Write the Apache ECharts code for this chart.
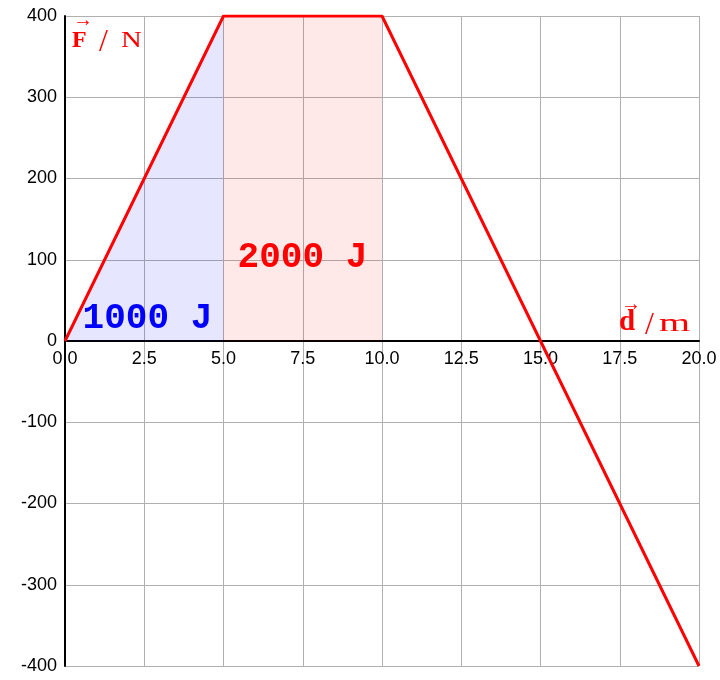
<!DOCTYPE html>
<html><head><meta charset="utf-8">
<script src="https://cdn.jsdelivr.net/npm/echarts@6/dist/echarts.min.js"></script>
<style>html,body{margin:0;padding:0;background:#fff}#c{width:720px;height:680px}</style>
</head><body><div id="c"></div>
<script>
const forceLine = [[0,0],[5,400],[10,400],[20,-400]];
const blueArea = [[0,0],[5,400]];
const pinkArea = [[5,400],[10,400]];
const xTicks = {min:0, max:20, interval:2.5};
const yTicks = {min:-400, max:400, interval:100};
const workLabels = ['1000 J', '2000 J'];
const workPos = [[2.6, 27.7], [7.49, 102.8]];
const workColors = ['#0000ff', '#ff0000'];

const chart = echarts.init(document.getElementById('c'));
const serif = '"Liberation Serif", "DejaVu Serif", serif';
const gridTop = 16, gridBottom = 14, H = 680;
const plotH = H - gridTop - gridBottom;
const zeroOffset = -plotH * (0 - yTicks.min) / (yTicks.max - yTicks.min);
function t(text, left, top, size, bold, scaleX){
  return {type:'text', left:left, top:top, scaleX:scaleX||1, z:10,
    style:{text:text, fontSize:size, fontFamily:serif, fontWeight:bold?'bold':'normal', fill:'#ff0000'}};
}
chart.setOption({
  animation:false,
  grid:{left:65, right:21, top:gridTop, bottom:gridBottom, containLabel:false, outerBoundsMode:'none'},
  xAxis:{type:'value', min:xTicks.min, max:xTicks.max, interval:xTicks.interval,
    position:'bottom', offset:zeroOffset,
    axisLine:{onZero:false, lineStyle:{color:'#000', width:2}},
    axisTick:{show:false},
    axisLabel:{formatter:v=>v.toFixed(1), color:'#000', fontSize:18, fontFamily:'"Liberation Sans", Arial, sans-serif', margin:9},
    splitLine:{show:true, lineStyle:{color:'#b0b0b0', width:1}}},
  yAxis:{type:'value', min:yTicks.min, max:yTicks.max, interval:yTicks.interval,
    axisLine:{show:true, onZero:false, lineStyle:{color:'#000', width:2}},
    axisTick:{show:false},
    axisLabel:{color:'#000', fontSize:18, fontFamily:'"Liberation Sans", Arial, sans-serif', margin:8},
    splitLine:{show:true, lineStyle:{color:'#b0b0b0', width:1}}},
  series:[
    {type:'line', data:blueArea, symbol:'none', lineStyle:{width:0}, areaStyle:{color:'rgba(0,0,255,0.14)', origin:0}, z:1},
    {type:'line', data:pinkArea, symbol:'none', lineStyle:{width:0}, areaStyle:{color:'rgba(255,0,0,0.13)', origin:0}, z:1},
    {type:'line', data:forceLine, symbol:'none', lineStyle:{color:'#ff0000', width:3}, z:3},
    {type:'scatter', symbolSize:0, z:4, silent:true,
      data:workPos.map((p,i)=>({value:p, label:{color:workColors[i]}})),
      label:{show:true, position:'inside', formatter:p=>workLabels[p.dataIndex],
        textBorderWidth:0, textBorderColor:'transparent', opacity:1,
        fontFamily:'"Liberation Mono", "DejaVu Sans Mono", monospace', fontWeight:'bold', fontSize:36},
      itemStyle:{color:'transparent'}}
  ],
  graphic:[
    t('F', 72, 29, 24, true),
    t('→', 73, 11, 20, false),
    t('/', 99, 27, 32, false),
    t('N', 121, 29, 24, false, 1.2),
    t('d', 619, 308, 29, true),
    t('→', 621, 295, 20, false),
    t('/', 645, 310, 32, false),
    t('m', 659, 312, 25, false, 1.6)
  ]
});
</script></body></html>
